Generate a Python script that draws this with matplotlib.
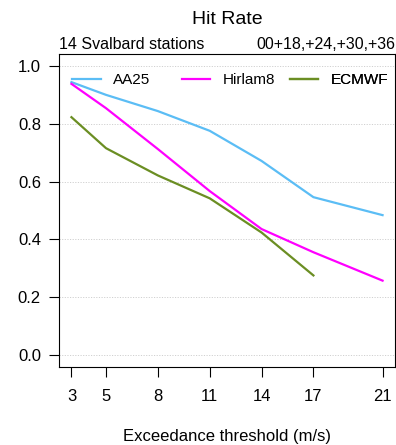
"""Hit rate vs exceedance threshold for Svalbard stations."""

import matplotlib

matplotlib.use('Agg')
import matplotlib.pyplot as plt

plt.rcParams['font.family'] = ['Liberation Sans', 'DejaVu Sans']

thresholds = [3, 5, 8, 11, 14, 17, 21]
aa25 = [0.943, 0.899, 0.843, 0.775, 0.671, 0.546, 0.484]
hirlam8 = [0.937, 0.853, 0.712, 0.567, 0.436, 0.356, 0.258]
ecmwf_thresholds = [3, 5, 8, 11, 14, 17]
ecmwf = [0.822, 0.715, 0.621, 0.542, 0.424, 0.276]
yticks = [0.0, 0.2, 0.4, 0.6, 0.8, 1.0]

series = [
    ('AA25', thresholds, aa25, '#5BBDF5'),
    ('Hirlam8', thresholds, hirlam8, '#FF00FF'),
    ('ECMWF', ecmwf_thresholds, ecmwf, '#6B8E23'),
]
legend_x = [0.040, 0.366, 0.688]

fig = plt.figure(figsize=(3.96, 4.45), dpi=100)
ax = fig.add_axes([59 / 396, 1 - 367 / 445, 336 / 396, 313 / 445])

for y in yticks:
    ax.axhline(y, color='#d0d0d0', linestyle=(0, (1.2, 1.5)), linewidth=0.7, zorder=0)

for (name, xs, ys, color), lx in zip(series, legend_x):
    line, = ax.plot(xs, ys, color=color, linewidth=1.6, label=name)
    leg = ax.legend(
        handles=[line],
        loc='center left',
        bbox_to_anchor=(lx, 0.917),
        frameon=False,
        fontsize=11,
        handlelength=1.85,
        handletextpad=0.8,
        borderpad=0,
        borderaxespad=0,
    )
    ax.add_artist(leg)

ax.set_xlim(2.28, 21.72)
ax.set_ylim(-0.04, 1.04)
ax.set_xticks(thresholds)
ax.set_yticks(yticks)
ax.set_yticklabels([f'{v:.1f}' for v in yticks])
ax.tick_params(axis='both', labelsize=12, length=7, width=0.8, direction='out')
ax.tick_params(axis='x', pad=9)
ax.tick_params(axis='y', pad=6)
for spine in ax.spines.values():
    spine.set_linewidth(0.8)

ax.text(0, 1.006, '14 Svalbard stations', transform=ax.transAxes,
        ha='left', va='bottom', fontsize=11.5)
ax.text(1, 1.006, '00+18,+24,+30,+36', transform=ax.transAxes,
        ha='right', va='bottom', fontsize=11.5)
fig.text(227 / 396, 1 - 20 / 445, 'Hit Rate', ha='center', va='center', fontsize=14)
fig.text(227 / 396, 1 - 437 / 445, 'Exceedance threshold (m/s)',
         ha='center', va='center', fontsize=12)

fig.savefig('out.png', dpi=100)
